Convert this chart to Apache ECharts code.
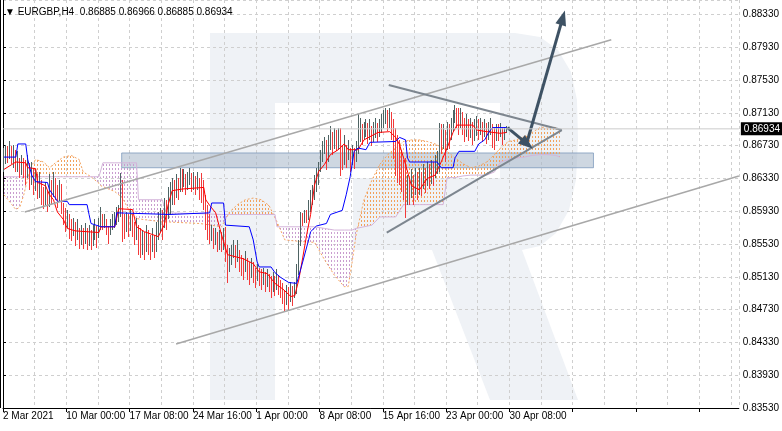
<!DOCTYPE html>
<html><head><meta charset="utf-8">
<script src="https://cdn.jsdelivr.net/npm/echarts@6/dist/echarts.min.js"></script>
<style>html,body{margin:0;padding:0;background:#fff}#c{width:782px;height:431px}</style>
</head><body><div id="c"></div>
<script>
// ---------- data ----------
const header = '\u25BC EURGBP,H4  0.86885 0.86966 0.86885 0.86934';
const xLabels = ['2 Mar 2021','10 Mar 00:00','17 Mar 08:00','24 Mar 16:00','1 Apr 00:00','8 Apr 08:00','15 Apr 16:00','23 Apr 00:00','30 Apr 08:00'];
const firstOpen = 0.8650;
const closes = [
.8656,.8666,.8662,.8670,.8658,.8668,.8650,.8656,.8644,.8653,
.8646,.8638,.8650,.8634,.8641,.8625,.8631,.8619,.8625,.8613,
.8607,.8617,.8601,.8625,.8613,.8631,.8619,.8609,.8622,.8601,
.8589,.8580,.8585,.8573,.8568,.8575,.8563,.8570,.8558,.8564,
.8561,.8568,.8558,.8564,.8556,.8563,.8570,.8561,.8573,.8583,
.8576,.8580,.8570,.8564,.8573,.8578,.8583,.8589,.8592,.8607,
.8576,.8568,.8580,.8573,.8583,.8570,.8564,.8573,.8558,.8552,
.8558,.8546,.8563,.8552,.8548,.8558,.8546,.8568,.8576,.8589,
.8580,.8592,.8585,.8601,.8607,.8619,.8613,.8625,.8617,.8634,
.8625,.8634,.8622,.8631,.8638,.8625,.8631,.8622,.8629,.8619,
.8613,.8607,.8589,.8573,.8561,.8568,.8558,.8564,.8552,.8558,
.8556,.8561,.8548,.8522,.8534,.8544,.8548,.8540,.8546,.8531,
.8528,.8519,.8531,.8522,.8514,.8524,.8515,.8509,.8519,.8512,
.8507,.8514,.8503,.8512,.8505,.8497,.8507,.8500,.8509,.8502,
.8495,.8487,.8479,.8490,.8485,.8495,.8487,.8497,.8522,.8552,
.8585,.8581,.8589,.8585,.8597,.8607,.8613,.8622,.8631,.8641,
.8656,.8668,.8674,.8656,.8670,.8683,.8674,.8686,.8678,.8683,
.8668,.8656,.8666,.8658,.8668,.8653,.8662,.8656,.8666,.8680,
.8692,.8683,.8690,.8695,.8686,.8692,.8683,.8689,.8695,.8686,
.8692,.8699,.8705,.8711,.8702,.8707,.8699,.8686,.8674,.8662,
.8650,.8637,.8625,.8607,.8619,.8613,.8625,.8617,.8629,.8622,
.8631,.8624,.8634,.8629,.8638,.8631,.8641,.8636,.8646,.8650,
.8692,.8680,.8686,.8674,.8690,.8683,.8695,.8707,.8714,.8707,
.8699,.8711,.8702,.8692,.8699,.8690,.8695,.8686,.8692,.8697,
.8692,.8699,.8690,.8695,.8685,.8692,.8697,.8686,.8680,.8690,
.8686,.8692,.8683,.86885,.86934];
const highs = [
.8670,.8674,.8673,.8678,.8672,.8674,.8668,.8666,.8658,.8662,
.8658,.8656,.8662,.8652,.8653,.8646,.8644,.8638,.8641,.8631,
.8622,.8629,.8619,.8638,.8631,.8641,.8634,.8625,.8631,.8626,
.8603,.8597,.8595,.8589,.8583,.8585,.8580,.8583,.8573,.8576,
.8573,.8578,.8573,.8576,.8570,.8576,.8583,.8575,.8585,.8598,
.8589,.8590,.8583,.8575,.8583,.8589,.8592,.8598,.8601,.8640,
.8631,.8589,.8592,.8589,.8595,.8589,.8580,.8585,.8576,.8573,
.8570,.8568,.8576,.8570,.8564,.8573,.8564,.8580,.8592,.8597,
.8595,.8609,.8607,.8622,.8629,.8634,.8631,.8638,.8634,.8646,
.8644,.8644,.8638,.8641,.8646,.8640,.8641,.8636,.8641,.8634,
.8640,.8631,.8613,.8601,.8589,.8576,.8573,.8573,.8568,.8570,
.8568,.8573,.8574,.8552,.8548,.8552,.8558,.8552,.8558,.8546,
.8540,.8536,.8544,.8536,.8531,.8536,.8531,.8524,.8528,.8524,
.8522,.8524,.8519,.8522,.8517,.8514,.8519,.8514,.8522,.8515,
.8509,.8505,.8497,.8503,.8501,.8507,.8502,.8507,.8528,.8558,
.8592,.8591,.8595,.8594,.8607,.8619,.8625,.8637,.8646,.8653,
.8668,.8678,.8683,.8680,.8686,.8697,.8690,.8695,.8692,.8695,
.8695,.8674,.8686,.8674,.8680,.8670,.8674,.8670,.8678,.8711,
.8707,.8699,.8702,.8705,.8700,.8705,.8697,.8702,.8707,.8700,
.8705,.8711,.8717,.8719,.8717,.8719,.8714,.8705,.8695,.8686,
.8680,.8668,.8656,.8658,.8637,.8631,.8644,.8637,.8646,.8641,
.8646,.8641,.8650,.8646,.8653,.8650,.8656,.8653,.8662,.8666,
.8701,.8699,.8699,.8692,.8702,.8699,.8707,.8717,.8722,.8719,
.8719,.8719,.8714,.8707,.8711,.8705,.8707,.8702,.8705,.8709,
.8705,.8707,.8702,.8705,.8700,.8702,.8707,.8699,.8695,.8699,
.8699,.8700,.8695,.8696,.86966];
const lows = [
.8641,.8651,.8652,.8656,.8650,.8646,.8641,.8641,.8634,.8638,
.8634,.8625,.8634,.8619,.8625,.8613,.8617,.8607,.8609,.8601,
.8595,.8601,.8592,.8598,.8601,.8610,.8607,.8597,.8605,.8589,
.8576,.8568,.8573,.8558,.8556,.8563,.8551,.8558,.8548,.8552,
.8548,.8553,.8546,.8551,.8546,.8551,.8558,.8548,.8561,.8570,
.8570,.8573,.8563,.8553,.8563,.8570,.8573,.8576,.8580,.8586,
.8556,.8558,.8568,.8561,.8570,.8561,.8552,.8558,.8540,.8536,
.8540,.8534,.8543,.8540,.8534,.8544,.8536,.8543,.8558,.8568,
.8558,.8573,.8570,.8583,.8589,.8601,.8601,.8609,.8607,.8617,
.8616,.8622,.8613,.8619,.8625,.8617,.8619,.8613,.8619,.8607,
.8603,.8595,.8570,.8558,.8552,.8556,.8548,.8552,.8544,.8546,
.8544,.8546,.8531,.8506,.8519,.8528,.8536,.8524,.8531,.8519,
.8515,.8509,.8519,.8509,.8503,.8512,.8505,.8500,.8507,.8502,
.8497,.8503,.8495,.8500,.8495,.8487,.8495,.8490,.8497,.8491,
.8487,.8479,.8470,.8479,.8473,.8483,.8478,.8487,.8491,.8515,
.8551,.8575,.8579,.8578,.8583,.8592,.8601,.8607,.8617,.8625,
.8641,.8653,.8662,.8644,.8653,.8668,.8662,.8670,.8666,.8668,
.8637,.8644,.8650,.8646,.8656,.8641,.8650,.8644,.8653,.8662,
.8678,.8673,.8680,.8683,.8675,.8680,.8673,.8678,.8683,.8677,
.8683,.8688,.8695,.8699,.8692,.8695,.8680,.8656,.8637,.8628,
.8625,.8617,.8607,.8585,.8601,.8601,.8609,.8601,.8613,.8607,
.8613,.8612,.8619,.8616,.8624,.8619,.8627,.8624,.8634,.8638,
.8641,.8662,.8668,.8653,.8668,.8668,.8680,.8692,.8700,.8695,
.8686,.8695,.8686,.8678,.8683,.8678,.8683,.8674,.8678,.8685,
.8680,.8686,.8678,.8683,.8674,.8680,.8686,.8670,.8668,.8678,
.8678,.8683,.8674,.8680,.86885];
// Tenkan-sen / Kijun-sen vertices [bar, price]
const tenkan = [[0,.8644],[4,.8650],[6,.8653],[11,.8652],[12,.8646],[16,.8645],[17,.8628],[21,.8624],[23,.8613],[25,.8607],[27,.8592],[30,.8583],[32,.8572],[36,.8569],[48,.8567],[49,.8574],[56,.8574],[58,.8596],[65,.8595],[67,.8574],[71,.8568],[78,.8562],[81,.8576],[83,.8601],[85,.8618],[90,.8620],[101,.8622],[102,.8607],[104,.8600],[107,.8591],[110,.8564],[113,.8540],[121,.8535],[126,.8529],[129,.8519],[133,.8517],[137,.8505],[141,.8498],[145,.8489],[147,.8490],[149,.8509],[151,.8536],[153,.8564],[155,.8589],[157,.8625],[159,.8641],[162,.8650],[165,.8662],[169,.8668],[172,.8675],[174,.8668],[179,.8668],[182,.8680],[189,.8689],[195,.8690],[198,.8683],[200,.8674],[203,.8650],[206,.8624],[210,.8619],[214,.8633],[218,.8637],[221,.8653],[224,.8670],[227,.8689],[229,.8698],[237,.8698],[239,.8692],[244,.8690],[251,.8688],[254,.8689]];
const kijun = [[0,.8659],[6,.8659],[7,.8675],[11,.8675],[12,.8656],[14,.8637],[16,.8629],[22,.8628],[23,.8619],[26,.8609],[27,.8605],[32,.8605],[33,.8601],[42,.8601],[43,.8589],[44,.8578],[49,.8574],[56,.8574],[57,.8591],[84,.8589],[85,.8591],[104,.8591],[105,.8603],[111,.8603],[112,.8576],[124,.8574],[126,.8558],[128,.8531],[129,.8525],[135,.8525],[137,.8518],[140,.8512],[144,.8506],[148,.8505],[151,.8531],[154,.8558],[155,.8568],[158,.8575],[163,.8578],[165,.8589],[171,.8594],[173,.8613],[175,.8635],[177,.8666],[179,.8670],[183,.8668],[185,.8677],[198,.8678],[200,.8683],[203,.8680],[204,.8658],[205,.8653],[219,.8653],[221,.8646],[227,.8646],[228,.8658],[230,.8666],[238,.8666],[240,.8675],[243,.8680],[245,.8689],[247,.8695],[254,.8695]];
// Senkou span A / B (cloud), shifted forward
const cloudIdx = [0,4,6,8,10,12,14,16,20,23,26,30,34,38,40,44,48,49,50,56,60,64,67,68,80,82,99,110,114,118,122,126,130,134,137,138,142,150,157,162,167,172,174,176,178,182,186,190,194,198,202,206,210,214,218,222,224,228,232,236,240,244,248,251,255,259,263,267,271,275,279,281];
const senkouA = [.8613,.8601,.8595,.8598,.8613,.8633,.8649,.8656,.8653,.8646,.8652,.8659,.8661,.8656,.8641,.8635,.8627,.8624,.8623,.8617,.8609,.8590,.8584,.8583,.8580,.8580,.8578,.8574,.8592,.8601,.8607,.8609,.8607,.8600,.8585,.8580,.8558,.8556,.8555,.8534,.8515,.8501,.8501,.8531,.8564,.8607,.8631,.8650,.8662,.8670,.8678,.8680,.8680,.8678,.8675,.8670,.8666,.8658,.8651,.8646,.8648,.8653,.8662,.8670,.8678,.8680,.8684,.8689,.8695,.8696,.8695,.8692];
const senkouB = [.8635,.8635,.8635,.8635,.8635,.8635,.8635,.8635,.8635,.8635,.8635,.8635,.8635,.8635,.8635,.8635,.8635,.8635,.8652,.8652,.8652,.8652,.8652,.8607,.8607,.8591,.8590,.8589,.8589,.8589,.8589,.8589,.8589,.8589,.8589,.8574,.8574,.8574,.8574,.8572,.8570,.8570,.8570,.8570,.8572,.8574,.8576,.8586,.8586,.8586,.8601,.8601,.8601,.8601,.8601,.8601,.8634,.8634,.8636,.8637,.8637,.8637,.8641,.8653,.8656,.8658,.8659,.8661,.8662,.8662,.8661,.8659];
// drawn analysis objects [bar, price]
const channelUpper = [[10.5,.8592],[307,.8802]];
const channelLower = [[87,.8431],[371.5,.8636]];
const triangleUpper = [[194.5,.8747],[282,.8692]];
const triangleLower = [[193.5,.8567],[282,.8692]];
const arrowSmall = [[254.5,.8695],[264.5,.8675]];
const arrowBig = [[264.5,.8678],[282.5,.8829]];
const zoneBand = [[59.5,.8664],[298,.8646]];
const bid = 0.86934;

// ---------- chart ----------
const X_MAX = 372;
const bx = i => i + 0.5;   // centre of bar slot i
function hatch(color){
  const c = document.createElement('canvas'); c.width = 3; c.height = 4;
  const g = c.getContext('2d'); g.fillStyle = color; g.fillRect(1,0,1,2);
  return {image: c, repeat: 'repeat'};
}
const orangePat = hatch('#f2a05a');
const violetPat = hatch('#c99ccf');

const candles = closes.map((c,i)=>[bx(i), i ? closes[i-1] : firstOpen, highs[i], lows[i], c]);
const cloudData = cloudIdx.map((x,k)=>[bx(x), senkouA[k], senkouB[k]]);

function cloudItem(params, api){
  const k = params.dataIndex;
  if (k >= cloudData.length - 1) return {type:'group', children:[]};
  const [x0,a0,b0] = cloudData[k], [x1,a1,b1] = cloudData[k+1];
  const P = (x,y)=>api.coord([x,y]);
  const d0 = a0-b0, d1 = a1-b1;
  const col = d => d >= 0 ? orangePat : violetPat;
  const ch = [];
  if (d0*d1 >= 0) {
    ch.push({type:'polygon', shape:{points:[P(x0,a0),P(x1,a1),P(x1,b1),P(x0,b0)]}, style:{fill:col(d0+d1)}});
  } else {
    const t = d0/(d0-d1), xc = x0+t*(x1-x0), yc = a0+t*(a1-a0);
    ch.push({type:'polygon', shape:{points:[P(x0,a0),P(xc,yc),P(x0,b0)]}, style:{fill:col(d0)}});
    ch.push({type:'polygon', shape:{points:[P(xc,yc),P(x1,a1),P(x1,b1)]}, style:{fill:col(d1)}});
  }
  return {type:'group', children: ch};
}
function candleItem(params, api){
  const x = api.value(0), o = api.value(1), h = api.value(2), l = api.value(3), c = api.value(4);
  const top = api.coord([x,h]), bot = api.coord([x,l]);
  return {type:'rect', shape:{x: Math.floor(top[0]), y: Math.round(top[1]), width: 1, height: Math.max(1, Math.round(bot[1]-top[1]))},
    style:{fill: c >= o ? '#4e6363' : '#f23a3a'}};
}
const seg = (pts, style, endSym) => [
  {coord:[bx(pts[0][0]), pts[0][1]], symbol:'none', lineStyle:style},
  {coord:[bx(pts[1][0]), pts[1][1]], symbol: endSym || 'none', symbolSize:[11,15], lineStyle:style}
];
const font = 'Liberation Sans';
const grid = {color:'#cfcfcf', type:[3,3], width:1};
const watermark = [[210,33],[515,33],[540,37],[558,50],[571,72],[577,100],[578,140],[576,180],[569,210],[556,233],[540,246],[522,250],
  [578,400],[490,400],[432,250],[353,250],[353,178],[500,178],[500,103],[275,103],[275,400],[210,400]];
const option = {
  animation: false,
  backgroundColor: '#fff',
  title: {text: header, left: 0, top: 2, textStyle:{fontSize:10, fontWeight:'normal', fontFamily:font, color:'#000'}},
  graphic: [
    {type:'polygon', z:-100, silent:true, shape:{points: watermark}, style:{fill:'#eff2f6'}},
    {type:'line', z:100, silent:true, shape:{x1:0.5,y1:0,x2:0.5,y2:408}, style:{stroke:'#000', lineWidth:1}}
  ],
  grid: {left:0, right:38, top:0, bottom:23, containLabel:false},
  xAxis: {type:'value', min:0, max:X_MAX, interval:32,
    axisLine:{show:true, onZero:false, lineStyle:{color:'#000', width:1}},
    axisTick:{show:true, length:4, lineStyle:{color:'#000'}},
    minorTick:{show:false, splitNumber:2},
    minorSplitLine:{show:true, lineStyle:grid},
    axisLabel:{show:true, align:'left', margin:3, fontSize:10, fontFamily:font, color:'#000', showMaxLabel:false,
      formatter: v => { const k = Math.round(v/32); return Math.abs(v-32*k) < 0.01 && xLabels[k] ? xLabels[k] : ''; }},
    splitLine:{show:true, lineStyle:grid}},
  yAxis: {type:'value', position:'right', min:0.8353, max:0.885056, interval:0.004,
    axisLine:{show:true, lineStyle:{color:'#000', width:1}},
    axisTick:{show:true, length:3, lineStyle:{color:'#000'}},
    axisLabel:{show:true, margin:4, fontSize:10, fontFamily:font, color:'#000', showMaxLabel:false,
      formatter: v => { const k = (v-0.8353)/0.004; return Math.abs(k-Math.round(k)) < 0.01 ? v.toFixed(5) : ''; }},
    splitLine:{show:true, lineStyle:grid}},
  series: [
    {type:'custom', name:'Cloud', renderItem: cloudItem, data: cloudData, encode:{x:0, y:[1,2]}, z:2, silent:true, clip:true},
    {type:'line', name:'Senkou Span A', data: cloudData.map(d=>[d[0],d[1]]), symbol:'none', z:2, silent:true,
      lineStyle:{color:'#f4a460', width:1, type:[2,2]}},
    {type:'line', name:'Senkou Span B', data: cloudData.map(d=>[d[0],d[2]]), symbol:'none', z:2, silent:true,
      lineStyle:{color:'#d4b4da', width:1}},
    {type:'custom', name:'EURGBP', renderItem: candleItem, data: candles, encode:{x:0, y:[1,2,3,4]}, z:3, silent:true},
    {type:'line', name:'Tenkan-sen', data: tenkan.map(p=>[bx(p[0]),p[1]]), symbol:'none', z:4, silent:true,
      lineStyle:{color:'#ff0000', width:1}},
    {type:'line', name:'Kijun-sen', data: kijun.map(p=>[bx(p[0]),p[1]]), symbol:'none', z:4, silent:true,
      lineStyle:{color:'#0000ff', width:1}},
    {type:'line', name:'Bid', data: [[0,bid],[X_MAX,bid]], symbol:'none', z:7, silent:true,
      lineStyle:{color:'#cccccc', width:1},
      endLabel:{show:true, formatter: () => bid.toFixed(5), distance:2, backgroundColor:'#000', color:'#fff',
        fontSize:10, fontFamily:font, padding:[2,3,1,3], verticalAlign:'middle'}},
    {type:'line', name:'Objects', data: [], z:6, silent:true,
      markArea:{silent:true, itemStyle:{color:'rgba(165,182,200,0.55)', borderColor:'rgba(120,150,185,0.75)', borderWidth:1},
        data:[[{coord:[bx(zoneBand[0][0]), zoneBand[0][1]]},{coord:[bx(zoneBand[1][0]), zoneBand[1][1]]}]]},
      markLine:{silent:true, symbol:'none', label:{show:false},
        data:[
          seg(channelUpper, {color:'#a8a8a8', width:1.5, type:'solid'}),
          seg(channelLower, {color:'#a8a8a8', width:1.5, type:'solid'}),
          seg(triangleUpper, {color:'#7d868f', width:2, type:'solid'}),
          seg(triangleLower, {color:'#7d868f', width:2, type:'solid'}),
          seg(arrowSmall, {color:'#3e5264', width:3, type:'solid'}, 'triangle'),
          seg(arrowBig, {color:'#3e5264', width:3, type:'solid'}, 'triangle')
        ]}}
  ]
};
const chart = echarts.init(document.getElementById('c'));
chart.setOption(option);
</script>
</body></html>
